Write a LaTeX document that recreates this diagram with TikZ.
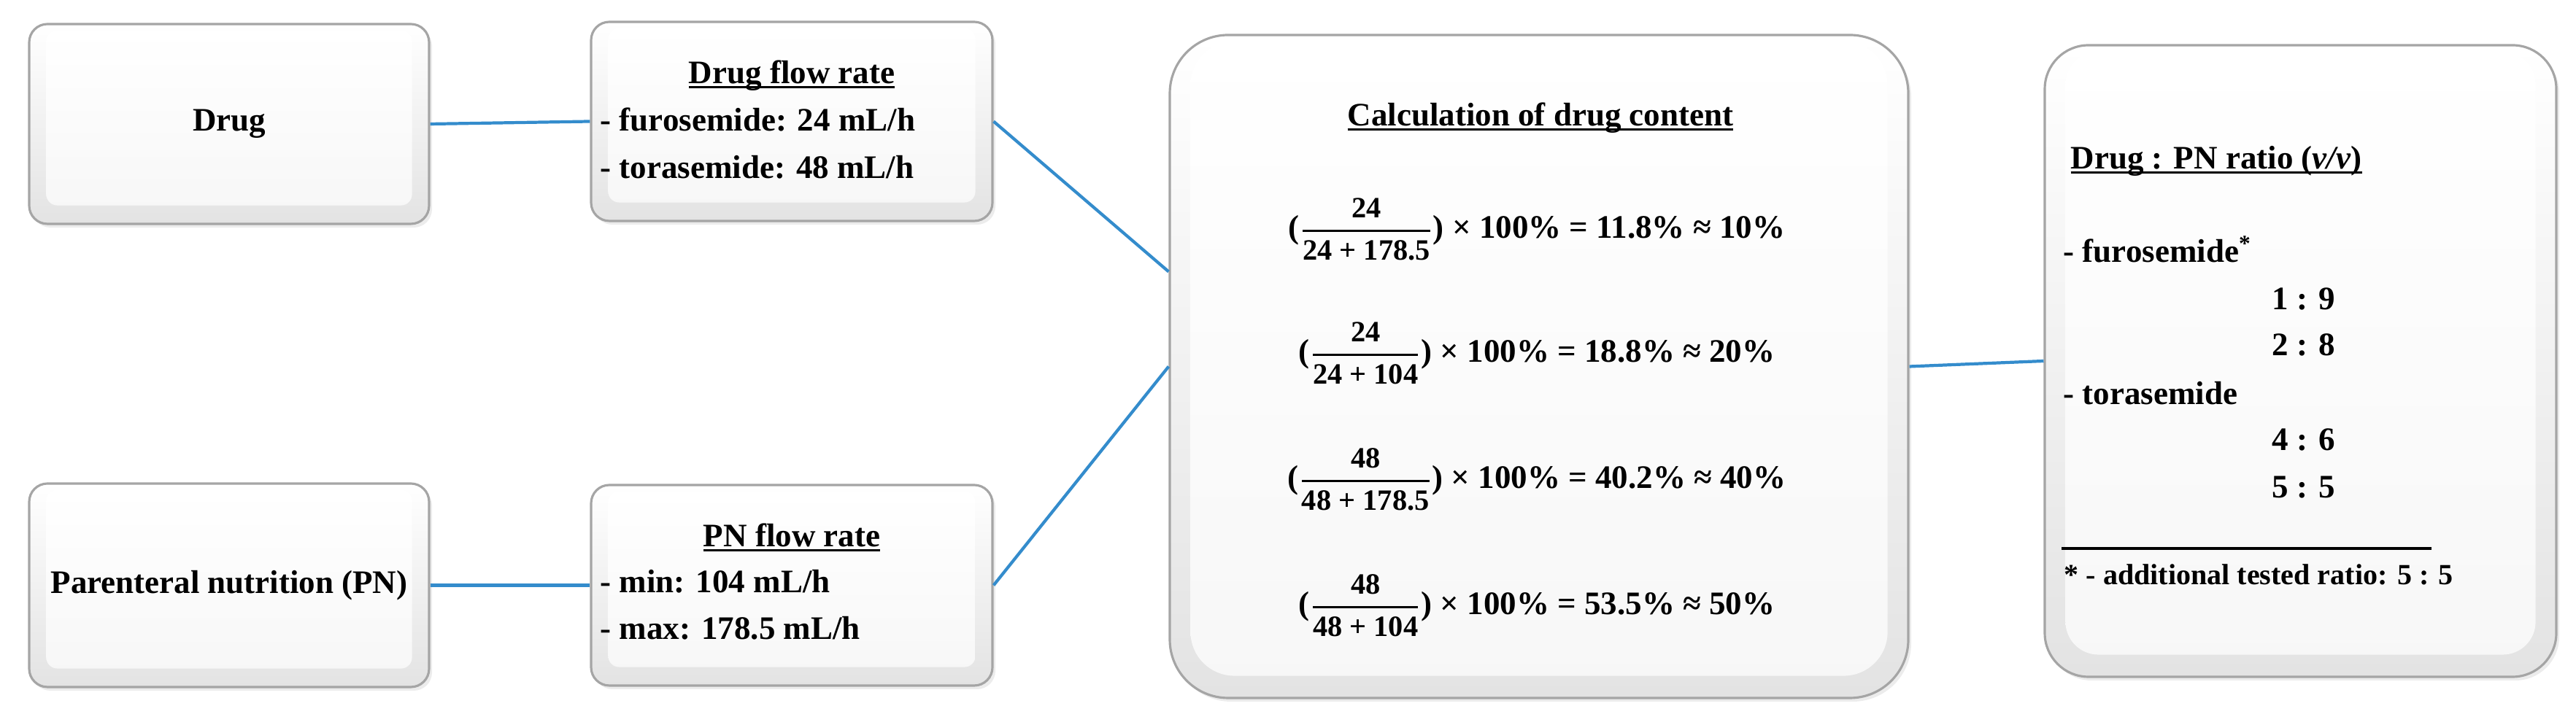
\documentclass[tikz,border=0pt]{standalone}
\usepackage{fontspec}
\setmainfont{Liberation Serif}
\usepackage{amsmath}
\usetikzlibrary{shadows,calc}
\definecolor{connblue}{RGB}{52,140,204}
\definecolor{edgegray}{RGB}{165,165,165}
\newsavebox\ttlbox
\newcommand{\ttlul}[1]{\sbox\ttlbox{#1}\rlap{\rule[-0.14em]{\wd\ttlbox}{0.08em}}\usebox\ttlbox}
\newcommand{\calcfr}[2]{$\genfrac{}{}{1.1pt}{0}{\text{\fontsize{11.5}{13}\selectfont #1}}{\text{\fontsize{11.5}{13}\selectfont #2}}$}
\newcommand{\insetpanel}[3]{\path[innerpanel, rounded corners=#2] ([shift={(#3,#3+0.02)}]#1.south west) rectangle ([shift={(-#3,-0.1)}]#1.north east);}
\tikzset{
  panelbox/.style={draw=edgegray, line width=0.9pt, top color=white, bottom color=gray!22,
    drop shadow={opacity=0.15, shadow xshift=0.04cm, shadow yshift=-0.05cm}, inner sep=0pt},
  innerpanel/.style={top color=white, bottom color=gray!6, draw=none},
  conn/.style={draw=connblue, line width=1.2pt},
  txt/.style={font=\fontsize{12.8}{15}\selectfont\bfseries, inner sep=0pt},
  smalltxt/.style={font=\fontsize{11.4}{13}\selectfont\bfseries, inner sep=0pt},
}
\begin{document}
\begin{tikzpicture}
\useasboundingbox (0,0) rectangle (35.30,9.68);
% boxes
\node[panelbox, rounded corners=0.25cm, minimum width=5.48cm, minimum height=2.74cm] (drug) at (3.14,7.98) {};
\node[panelbox, rounded corners=0.25cm, minimum width=5.48cm, minimum height=2.79cm] (pn) at (3.14,1.655) {};
\node[panelbox, rounded corners=0.25cm, minimum width=5.50cm, minimum height=2.73cm] (dflow) at (10.85,8.015) {};
\node[panelbox, rounded corners=0.25cm, minimum width=5.50cm, minimum height=2.75cm] (pflow) at (10.85,1.655) {};
\node[panelbox, rounded corners=0.8cm, minimum width=10.12cm, minimum height=9.09cm] (calc) at (21.09,4.655) {};
\node[panelbox, rounded corners=0.6cm, minimum width=7.01cm, minimum height=8.66cm] (ratio) at (31.525,4.73) {};
% inner highlight panels
\insetpanel{drug}{0.15cm}{0.25}
\insetpanel{pn}{0.15cm}{0.25}
\insetpanel{dflow}{0.15cm}{0.25}
\insetpanel{pflow}{0.15cm}{0.25}
\insetpanel{calc}{0.6cm}{0.3}
\insetpanel{ratio}{0.45cm}{0.3}
% connectors
\draw[conn] (drug.east) -- (dflow.west);
\draw[conn] (pn.east) -- (pflow.west);
\draw[conn] (dflow.east) -- ([yshift=1.30cm]calc.west);
\draw[conn] (pflow.east) -- (calc.west);
\draw[conn] (calc.east) -- (ratio.west);
% texts
\node[txt] (drugtxt) at (drug.center) {Drug};
\node[txt] (pntxt) at (pn.center) {Parenteral nutrition (PN)};
\node[txt, anchor=base] (dftitle) at (10.85,8.53) {\ttlul{Drug flow rate}};
\node[txt, anchor=base west] (df1) at (8.22,7.88) {- furosemide: 24 mL/h};
\node[txt, anchor=base west] (df2) at (8.22,7.23) {- torasemide: 48 mL/h};
\node[txt, anchor=base] (pftitle) at (10.85,2.18) {\ttlul{PN flow rate}};
\node[txt, anchor=base west] (pf1) at (8.22,1.55) {- min: 104 mL/h};
\node[txt, anchor=base west] (pf2) at (8.22,0.91) {- max: 178.5 mL/h};
\node[txt, anchor=base] (ctitle) at (21.11,7.95) {\ttlul{Calculation of drug content}};
\node[txt, anchor=base] (f1) at (21.06,6.41) {(\calcfr{24}{24 + 178.5}) × 100\% = 11.8\% ≈ 10\%};
\node[txt, anchor=base] (f2) at (21.06,4.71) {(\calcfr{24}{24 + 104}) × 100\% = 18.8\% ≈ 20\%};
\node[txt, anchor=base] (f3) at (21.06,2.98) {(\calcfr{48}{48 + 178.5}) × 100\% = 40.2\% ≈ 40\%};
\node[txt, anchor=base] (f4) at (21.06,1.25) {(\calcfr{48}{48 + 104}) × 100\% = 53.5\% ≈ 50\%};
\node[txt, anchor=base west] (rtitle) at (28.37,7.36) {\ttlul{Drug : PN ratio (\textit{v/v})}};
\node[txt, anchor=base west] (rfuro) at (28.27,6.08) {- furosemide\textsuperscript{*}};
\node[txt, anchor=base west] (r19) at (31.13,5.43) {1 : 9};
\node[txt, anchor=base west] (r28) at (31.13,4.80) {2 : 8};
\node[txt, anchor=base west] (rtora) at (28.27,4.13) {- torasemide};
\node[txt, anchor=base west] (r46) at (31.13,3.50) {4 : 6};
\node[txt, anchor=base west] (r55) at (31.13,2.85) {5 : 5};
\coordinate (ruleA) at (28.25,2.16);
\coordinate (ruleB) at (33.32,2.16);
\draw[line width=1pt] (ruleA) -- (ruleB);
\node[smalltxt, anchor=base west] (rfoot) at (28.28,1.66) {* - additional tested ratio: 5 : 5};
\end{tikzpicture}
\end{document}
